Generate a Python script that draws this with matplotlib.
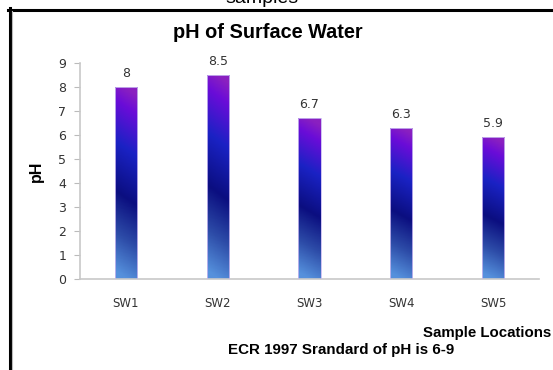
import numpy as np
import matplotlib
matplotlib.use("Agg")
import matplotlib.pyplot as plt
from matplotlib.colors import LinearSegmentedColormap
from matplotlib.lines import Line2D

# data
locations = ["SW1", "SW2", "SW3", "SW4", "SW5"]
ph_values = [8, 8.5, 6.7, 6.3, 5.9]
y_ticks = list(range(0, 10))

fig = plt.figure(figsize=(5.53, 3.70), dpi=100)
ax = fig.add_axes([80/553, 1-279/370, 459/553, 216/370])

# gradient going purple at top -> blue -> navy -> light blue at bottom
cmap = LinearSegmentedColormap.from_list("bar", [
    (0.0, "#5590dc"),
    (0.2, "#2d4ca8"),
    (0.42, "#0b0e80"),
    (0.68, "#1a22c4"),
    (0.9, "#6a0cd8"),
    (1.0, "#8a20c0"),
])

x = np.arange(len(locations))
bars = ax.bar(x, ph_values, width=0.24, color="none", edgecolor="#c8b8f0", linewidth=0.6, zorder=3)

u = np.linspace(0, 1, 20)
v = np.linspace(0, 1, 200)
U, V = np.meshgrid(u, v)
grad = np.clip(V + 0.08*(U - 0.5), 0, 1)

for b in bars:
    x0 = b.get_x()
    w = b.get_width()
    h = b.get_height()
    im = ax.imshow(grad, cmap=cmap, origin="lower", aspect="auto",
                   extent=[x0, x0 + w, 0, h], zorder=2, vmin=0, vmax=1)
    im.set_clip_path(b)
    ax.annotate(f"{h:g}", (x0 + w/2, h), xytext=(0, 5), textcoords="offset points",
                ha="center", va="bottom", fontsize=9, color="#333333")

ax.set_xlim(-0.5, len(locations) - 0.5)
ax.set_ylim(0, 9)
ax.set_yticks(y_ticks)
ax.set_xticks(x)
ax.set_xticklabels(locations)
ax.tick_params(axis="y", length=4, color="#bbbbbb", labelsize=9, labelcolor="#333333", pad=6)
ax.tick_params(axis="x", length=0, labelsize=8.5, labelcolor="#333333", pad=13)
for s in ["top", "right"]:
    ax.spines[s].set_visible(False)
for s in ["left", "bottom"]:
    ax.spines[s].set_color("#c8c8c8")
    ax.spines[s].set_linewidth(1.2)

ax.set_ylabel("pH", fontsize=11.5, fontweight="bold", family="Liberation Sans", labelpad=10)

fig.text(268/553, 1-33/370, "pH of Surface Water", ha="center", va="center",
         fontsize=14.3, fontweight="bold", family="Liberation Sans")
fig.text(551/553, 1-333/370, "Sample Locations", ha="right", va="center",
         fontsize=10.8, fontweight="bold", family="Liberation Sans")
fig.text(228/553, 1-350/370, "ECR 1997 Srandard of pH is 6-9", ha="left", va="center",
         fontsize=10.9, fontweight="bold", family="Liberation Sans")
# cut-off text at the very top
fig.text(262/553, 1-3/370, "samples", ha="center", va="baseline",
         fontsize=14, family="Liberation Sans")

# frame lines
fig.add_artist(Line2D([8/553, 1], [1-9.5/370, 1-9.5/370], color="black", linewidth=2.2,
                      transform=fig.transFigure))
fig.add_artist(Line2D([9.5/553, 9.5/553], [0, 1-8/370], color="black", linewidth=2.2,
                      transform=fig.transFigure))
fig.add_artist(Line2D([12/553, 12/553], [0, 1-11/370], color="#bbbbbb", linewidth=0.8,
                      transform=fig.transFigure))

fig.savefig("out.png", dpi=100)
